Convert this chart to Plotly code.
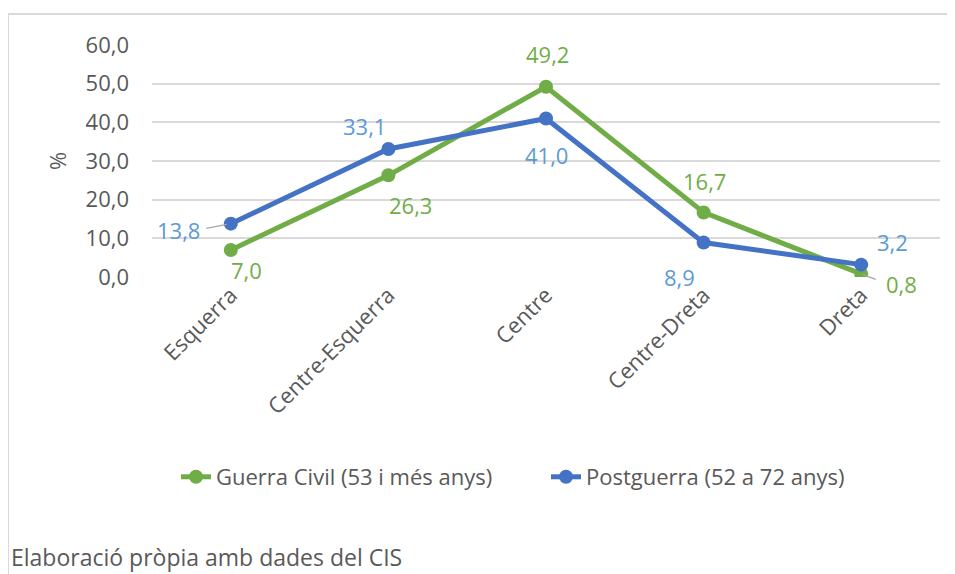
import plotly.graph_objects as go

categories = ["Esquerra", "Centre-Esquerra", "Centre", "Centre-Dreta", "Dreta"]
guerra_civil = [7.0, 26.3, 49.2, 16.7, 0.8]
postguerra = [13.8, 33.1, 41.0, 8.9, 3.2]
series_names = ["Guerra Civil (53 i més anys)", "Postguerra (52 a 72 anys)"]
y_ticks = [0, 10, 20, 30, 40, 50, 60]

GREEN = "#70AD47"
BLUE = "#4472C4"
BLUE_LABEL = "#5B9BD5"
GREY = "#595959"
FONT = "Open Sans"
FS = 22

fig = go.Figure()
fig.add_trace(go.Scatter(x=categories, y=guerra_civil, name=series_names[0], mode="lines+markers",
                         line=dict(color=GREEN, width=5), marker=dict(size=14, color=GREEN)))
fig.add_trace(go.Scatter(x=categories, y=postguerra, name=series_names[1], mode="lines+markers",
                         line=dict(color=BLUE, width=5), marker=dict(size=14, color=BLUE)))

def fmt(v):
    return f"{v:.1f}".replace(".", ",")

# label offsets (pixels) per point
green_off = [(16, -20), (22, -30), (1, 33), (1, 31), (40, -10)]
blue_off = [(-52, -6), (-24, 23), (0, -37), (-24, -34), (31, 23)]

for vals, offs, col in [(guerra_civil, green_off, GREEN), (postguerra, blue_off, BLUE_LABEL)]:
    for cat, v, (dx, dy) in zip(categories, vals, offs):
        fig.add_annotation(x=cat, y=v, text=fmt(v), showarrow=False, xshift=dx, yshift=dy,
                           font=dict(size=FS, color=col, family=FONT))

# leader lines
fig.add_annotation(x=categories[0], y=postguerra[0], text="", showarrow=True, ax=-26, ay=5,
                   arrowhead=0, arrowwidth=1.2, arrowcolor="#A6A6A6", standoff=4)
fig.add_annotation(x=categories[4], y=guerra_civil[4], text="", showarrow=True, ax=16, ay=6,
                   arrowhead=0, arrowwidth=1.2, arrowcolor="#A6A6A6", standoff=2)

fig.add_annotation(text="Elaboració pròpia amb dades del CIS", xref="paper", yref="paper",
                   x=-0.181, y=-1.207, xanchor="left", yanchor="middle", showarrow=False,
                   font=dict(size=23, color=GREY, family=FONT))

# frame lines
fig.add_shape(type="line", xref="paper", yref="paper", x0=-0.1827, x1=-0.1827, y0=1.134, y1=-1.4,
              line=dict(color="#D9D9D9", width=2))
fig.add_shape(type="line", xref="paper", yref="paper", x0=-0.1827, x1=1.03, y0=1.134, y1=1.134,
              line=dict(color="#D9D9D9", width=2))

fig.update_layout(
    width=947, height=566,
    margin=dict(l=144, r=15, t=37, b=297),
    plot_bgcolor="white", paper_bgcolor="white",
    separators=",.",
    font=dict(family=FONT, color=GREY, size=FS),
    showlegend=True,
    legend=dict(orientation="h", x=0.5, xanchor="center", y=-0.862, yanchor="middle",
                font=dict(size=FS, color=GREY), entrywidth=325, entrywidthmode="pixels"),
    xaxis=dict(range=[-0.5, 4.5], tickangle=-45, showgrid=False, showline=False, zeroline=False,
               tickfont=dict(size=FS, color=GREY), ticks=""),
    yaxis=dict(range=[0, 60], tickvals=y_ticks, tickformat=".1f", showgrid=True,
               gridcolor="#D9D9D9", gridwidth=1.5, zeroline=False, showline=False,
               tickfont=dict(size=FS, color=GREY), ticklabelstandoff=22,
               title=dict(text="%", standoff=12, font=dict(size=FS, color=GREY))),
)

fig.write_html("out.html")
